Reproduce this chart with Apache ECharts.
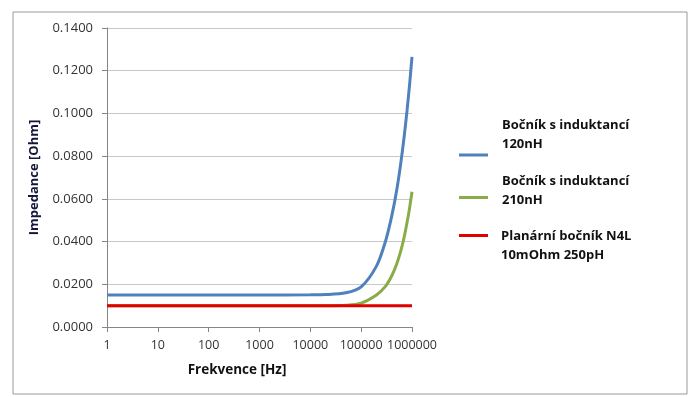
<!DOCTYPE html>
<html>
<head>
<meta charset="utf-8">
<script src="https://cdn.jsdelivr.net/npm/echarts@6/dist/echarts.min.js"></script>
<style>
  html, body { margin: 0; padding: 0; background: #fff; }
  #main { width: 697px; height: 397px; }
</style>
</head>
<body>
<div id="main"></div>
<script>
// frekvence [Hz] a impedance [Ohm]
const freqs = [1, 10, 100, 1000, 10000, 20000, 50000, 100000, 200000, 300000, 400000, 500000, 600000, 700000, 800000, 900000, 1000000];
const z120 = [0.0150, 0.0150, 0.0150, 0.0150, 0.0151, 0.0152, 0.0160, 0.0188, 0.0285, 0.0400, 0.0520, 0.0640, 0.0765, 0.0890, 0.1015, 0.1140, 0.1265];
const z210 = [0.0100, 0.0100, 0.0100, 0.0100, 0.0100, 0.0100, 0.0102, 0.0112, 0.0150, 0.0190, 0.0240, 0.0295, 0.0355, 0.0420, 0.0490, 0.0560, 0.0633];
const zN4L = [0.0100, 0.0100, 0.0100, 0.0100, 0.0100, 0.0100, 0.0100, 0.0100, 0.0100, 0.0100, 0.0100, 0.0100, 0.0100, 0.0100, 0.0100, 0.0100, 0.0100];
const yTicks = [0, 0.02, 0.04, 0.06, 0.08, 0.1, 0.12, 0.14];
const names = ['Bočník s induktancí 120nH', 'Bočník s induktancí 210nH', 'Planární bočník N4L 10mOhm 250pH'];
const labelLines = [
  ['Bočník s induktancí', '120nH'],
  ['Bočník s induktancí', '210nH'],
  ['Planární bočník N4L', '10mOhm 250pH']
];

function pairs(ys) {
  let out = [];
  for (let i = 0; i < freqs.length; i++) {
    out.push([freqs[i], ys[i]]);
  }
  return out;
}

const chart = echarts.init(document.getElementById('main'), null, { renderer: 'canvas' });
const font = '"Open Sans", "Noto Sans", sans-serif';

// legenda - každá položka zvlášť, text je oproti čárce posunutý prázdným řádkem
function legendItem(idx, top, gapBefore, gapAfter, padLeft) {
  let lines = labelLines[idx];
  return {
    data: [names[idx]],
    orient: 'vertical',
    left: 459,
    top: top,
    padding: 0,
    icon: 'rect',
    itemWidth: 29,
    itemHeight: 3,
    selectedMode: false,
    formatter: function () {
      let s = '{t|' + lines[0] + '}\n{t|' + lines[1] + '}';
      if (gapBefore) s = '{g| }\n' + s;
      if (gapAfter) s = s + '\n{h| }';
      return s;
    },
    textStyle: {
      rich: {
        t: { fontFamily: font, fontSize: 13, fontWeight: 'bold', color: '#111', lineHeight: 19, padding: [0, 0, 0, padLeft] },
        g: { fontSize: 1, lineHeight: gapBefore || 1 },
        h: { fontSize: 1, lineHeight: gapAfter || 1 }
      }
    }
  };
}

chart.setOption({
  animation: false,
  backgroundColor: '#fff',
  color: ['#4f81bd', '#8aac48', '#e00000'],
  grid: { left: 107, right: 285, top: 28, bottom: 70 },
  graphic: [{
    type: 'rect',
    shape: { x: 13, y: 12, width: 674, height: 382 },
    style: { fill: 'none', stroke: '#9a9a9a', lineWidth: 1 },
    silent: true
  }],
  legend: [
    legendItem(0, 119, 0, 40, 9),
    legendItem(1, 175, 0, 13, 9),
    legendItem(2, 216, 20, 0, 8)
  ],
  xAxis: {
    type: 'log',
    logBase: 10,
    min: 1,
    max: 1000000,
    interval: 1,
    name: 'Frekvence [Hz]',
    nameLocation: 'middle',
    nameGap: 36,
    nameTextStyle: { fontFamily: font, fontSize: 13.5, fontWeight: 'bold', color: '#111', padding: [0, 45, 0, 0] },
    axisLine: { lineStyle: { color: '#868686' } },
    axisTick: { show: true, length: 5, lineStyle: { color: '#868686' } },
    axisLabel: {
      margin: 12,
      fontFamily: font,
      fontSize: 12.5,
      color: '#333',
      formatter: v => String(Math.round(v))
    },
    splitLine: { show: false },
    minorTick: { show: false }
  },
  yAxis: {
    type: 'value',
    min: yTicks[0],
    max: yTicks[yTicks.length - 1],
    interval: 0.02,
    name: 'Impedance [Ohm]',
    nameLocation: 'middle',
    nameGap: 66,
    nameTextStyle: { fontFamily: font, fontSize: 13, fontWeight: 'bold', color: '#14143c' },
    axisLine: { show: true, lineStyle: { color: '#868686' } },
    axisTick: { show: true, length: 5, lineStyle: { color: '#868686' } },
    axisLabel: {
      margin: 14,
      fontFamily: font,
      fontSize: 13,
      color: '#333',
      formatter: v => v.toFixed(4)
    },
    splitLine: { lineStyle: { color: '#c8c8c8' } }
  },
  series: [
    { name: names[0], type: 'line', data: pairs(z120), smooth: 0.3, showSymbol: false, lineStyle: { width: 3 } },
    { name: names[1], type: 'line', data: pairs(z210), smooth: 0.3, showSymbol: false, lineStyle: { width: 3 } },
    { name: names[2], type: 'line', data: pairs(zN4L), smooth: 0.3, showSymbol: false, lineStyle: { width: 3 } }
  ]
});
</script>
</body>
</html>
